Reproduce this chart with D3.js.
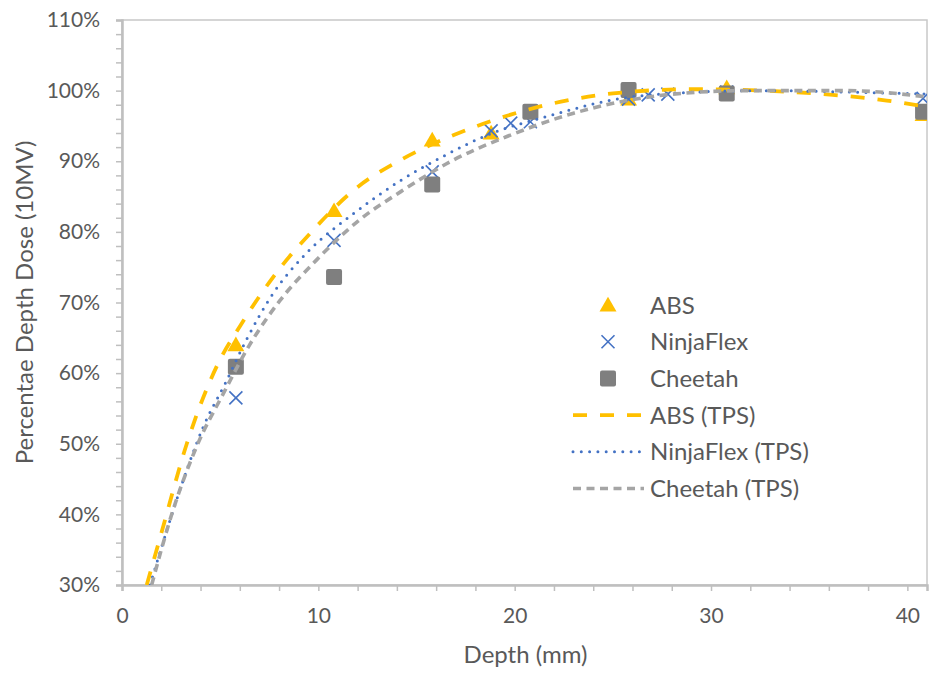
<!DOCTYPE html>
<html>
<head>
<meta charset="utf-8">
<script src="https://cdn.jsdelivr.net/npm/d3@7"></script>
<style>
  body { margin: 0; background: #fff; }
  text { font-family: Lato, "Noto Sans", sans-serif; fill: #595959; }
</style>
</head>
<body>
<div class="chart"></div>
<script>
// measured points (depth in mm, PDD as fraction)
var absDepth = [5.8, 10.8, 15.8, 18.8, 25.8, 30.8, 40.8];
var absDose = [0.640, 0.830, 0.930, 0.940, 0.988, 1.004, 0.966];

var ninjaDepth = [5.8, 10.8, 15.8, 18.8, 19.8, 20.8, 25.8, 26.8, 27.8, 30.8, 40.8];
var ninjaDose = [0.565, 0.788, 0.885, 0.943, 0.954, 0.956, 0.988, 0.994, 0.995, 0.998, 0.989];

var cheetahDepth = [5.8, 10.8, 15.8, 20.8, 25.8, 30.8, 40.8];
var cheetahDose = [0.609, 0.736, 0.867, 0.970, 1.001, 0.996, 0.970];

// TPS curves
var absTpsDepth = [1.26, 2.0, 3.3, 4.9, 6.0, 7.7, 9.75, 11.8, 14.2, 16.9, 19.8, 22.3, 25.0, 29.1, 32.7, 36.2, 38.95, 41];
var absTpsDose = [0.300, 0.373, 0.500, 0.614, 0.666, 0.736, 0.803, 0.859, 0.902, 0.937, 0.966, 0.984, 0.996, 1.002, 1.000, 0.994, 0.986, 0.977];

var ninjaTpsDepth = [1.43, 2.45, 3.3, 4.14, 5.25, 6.35, 7.7, 9.4, 11.8, 14.2, 16.5, 18.6, 21.6, 25.0, 29.3, 32.7, 36.9, 41];
var ninjaTpsDose = [0.300, 0.392, 0.463, 0.524, 0.585, 0.648, 0.713, 0.770, 0.826, 0.873, 0.909, 0.937, 0.963, 0.987, 0.998, 1.000, 0.998, 0.995];

var cheetahTpsDepth = [1.51, 2.6, 3.8, 5.16, 6.5, 8.05, 9.9, 12.1, 14.2, 16.9, 19.6, 23.0, 27.7, 31.8, 36.9, 41];
var cheetahTpsDose = [0.300, 0.406, 0.496, 0.571, 0.640, 0.703, 0.760, 0.817, 0.857, 0.902, 0.935, 0.968, 0.994, 1.000, 1.000, 0.991];

var xTicks = [0, 10, 20, 30, 40];
var yTicks = [0.3, 0.4, 0.5, 0.6, 0.7, 0.8, 0.9, 1.0, 1.1];

var legendLabels = ['ABS', 'NinjaFlex', 'Cheetah', 'ABS (TPS)', 'NinjaFlex (TPS)', 'Cheetah (TPS)'];

var width = 930, height = 673;
var margin = {top: 20, right: 3, bottom: 88, left: 122};

var yellow = '#FFC000', blue = '#4472C4', darkGray = '#7F7F7F', lightGray = '#A5A5A5';

var svg = d3.select('.chart').append('svg')
  .attr('width', width)
  .attr('height', height);

var x = d3.scaleLinear().domain([0, 41]).range([margin.left, width - margin.right]);
var y = d3.scaleLinear().domain([0.3, 1.1]).range([height - margin.bottom, margin.top]);

function zip(a, b) {
  return a.map(function (d, i) { return [d, b[i]]; });
}

svg.append('clipPath').attr('id', 'plot-clip')
  .append('rect')
  .attr('x', x(0)).attr('y', y(1.1))
  .attr('width', x(41) - x(0)).attr('height', y(0.3) - y(1.1));

// plot border
svg.append('rect')
  .attr('x', x(0)).attr('y', y(1.1))
  .attr('width', x(41) - x(0)).attr('height', y(0.3) - y(1.1))
  .attr('fill', 'none').attr('stroke', '#c8c8c8').attr('stroke-width', 1.5);

// minor ticks
var xMinor = svg.append('g')
  .attr('transform', 'translate(0,' + y(0.3) + ')')
  .call(d3.axisBottom(x).tickValues(d3.range(0, 41, 2)).tickSize(6).tickFormat(''));
var yMinor = svg.append('g')
  .attr('transform', 'translate(' + x(0) + ',0)')
  .call(d3.axisLeft(y).tickValues(d3.range(15, 56).map(function (v) { return v / 50; })).tickSize(6).tickFormat(''));

[xMinor, yMinor].forEach(function (g) {
  g.selectAll('path.domain').attr('stroke', '#bfbfbf').attr('stroke-width', 2.5);
  g.selectAll('line').attr('stroke', '#bfbfbf').attr('stroke-width', 1.5);
});

// labels
var xLab = svg.append('g')
  .attr('transform', 'translate(0,' + y(0.3) + ')')
  .call(d3.axisBottom(x).tickValues(xTicks).tickSize(0).tickPadding(23));
var yLab = svg.append('g')
  .attr('transform', 'translate(' + x(0) + ',0)')
  .call(d3.axisLeft(y).tickValues(yTicks).tickSize(0).tickPadding(22).tickFormat(d3.format('.0%')));

[xLab, yLab].forEach(function (g) {
  g.select('path.domain').remove();
  g.selectAll('text').style('font-family', 'Lato, sans-serif').style('font-size', '21px').attr('fill', '#595959');
});

svg.append('text')
  .attr('x', (x(0) + x(41)) / 2 + 1)
  .attr('y', 663)
  .attr('text-anchor', 'middle')
  .style('font-size', '24px')
  .text('Depth (mm)');

svg.append('text')
  .attr('transform', 'translate(33,' + ((y(0.3) + y(1.1)) / 2) + ') rotate(-90)')
  .attr('text-anchor', 'middle')
  .style('font-size', '24px')
  .text('Percentae Depth Dose (10MV)');

// markers
var plot = svg.append('g').attr('clip-path', 'url(#plot-clip)');

var triangle = d3.symbol().type(d3.symbolTriangle).size(125);

function drawTriangles(g, data) {
  g.selectAll('path.tri').data(data).enter().append('path')
    .attr('class', 'tri')
    .attr('d', triangle)
    .attr('transform', function (d) { return 'translate(' + x(d[0]) + ',' + (y(d[1]) + 1.5) + ')'; })
    .attr('fill', yellow);
}

function drawCrosses(g, data) {
  g.selectAll('path.cross').data(data).enter().append('path')
    .attr('class', 'cross')
    .attr('d', function (d) {
      var cx = x(d[0]), cy = y(d[1]), r = 6.5;
      return 'M' + (cx - r) + ',' + (cy - r) + 'L' + (cx + r) + ',' + (cy + r) +
        'M' + (cx - r) + ',' + (cy + r) + 'L' + (cx + r) + ',' + (cy - r);
    })
    .attr('stroke', blue).attr('stroke-width', 1.6).attr('fill', 'none');
}

function drawSquares(g, data) {
  g.selectAll('rect.sq').data(data).enter().append('rect')
    .attr('class', 'sq')
    .attr('x', function (d) { return x(d[0]) - 8; })
    .attr('y', function (d) { return y(d[1]) - 8; })
    .attr('width', 16).attr('height', 16).attr('rx', 2)
    .attr('fill', darkGray);
}

drawTriangles(plot, zip(absDepth, absDose));
drawCrosses(plot, zip(ninjaDepth, ninjaDose));
drawSquares(plot, zip(cheetahDepth, cheetahDose));

var line = d3.line()
  .x(function (d) { return x(d[0]); })
  .y(function (d) { return y(d[1]); })
  .curve(d3.curveMonotoneX);

var tpsStyles = [
  {data: zip(absTpsDepth, absTpsDose), color: yellow, width: 3.8, dash: '14,13', cap: 'butt'},
  {data: zip(ninjaTpsDepth, ninjaTpsDose), color: blue, width: 3, dash: '0,8.3', cap: 'round'},
  {data: zip(cheetahTpsDepth, cheetahTpsDose), color: lightGray, width: 3.6, dash: '8,5.5', cap: 'butt'}
];

tpsStyles.forEach(function (s) {
  plot.append('path')
    .attr('d', line(s.data))
    .attr('fill', 'none')
    .attr('stroke', s.color)
    .attr('stroke-width', s.width)
    .attr('stroke-dasharray', s.dash)
    .attr('stroke-linecap', s.cap);
});

// legend
var legend = svg.append('g');
var rowY = function (i) { return 305 + i * 36.7; };

legendLabels.forEach(function (label, i) {
  var ly = rowY(i);
  legend.append('text')
    .attr('x', 650).attr('y', ly).attr('dy', '0.36em')
    .style('font-size', '24px')
    .text(label);
});

drawTriangles(legend, [[x.invert(608), y.invert(rowY(0))]]);
drawCrosses(legend, [[x.invert(608), y.invert(rowY(1))]]);
drawSquares(legend, [[x.invert(608), y.invert(rowY(2))]]);

tpsStyles.forEach(function (s, i) {
  legend.append('line')
    .attr('x1', 573).attr('x2', 644)
    .attr('y1', rowY(i + 3)).attr('y2', rowY(i + 3))
    .attr('stroke', s.color)
    .attr('stroke-width', s.width)
    .attr('stroke-dasharray', s.dash)
    .attr('stroke-linecap', s.cap);
});
</script>
</body>
</html>
